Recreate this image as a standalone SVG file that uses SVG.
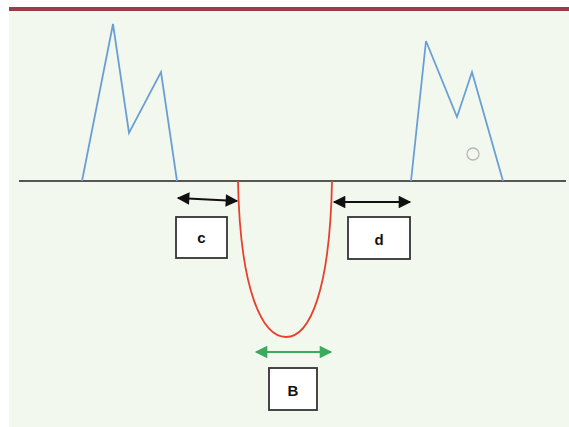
<svg xmlns="http://www.w3.org/2000/svg" width="569" height="427" viewBox="0 0 569 427">
<style>
.peak{fill:none;stroke:#6a9fd6;stroke-width:1.8;stroke-linejoin:miter}
.box{fill:#ffffff;stroke:#333333;stroke-width:1.8}
.lbl{font-family:"Liberation Sans",Arial,sans-serif;font-weight:bold;font-size:15px;fill:#111;text-anchor:middle}
.blk{stroke:#111;stroke-width:1.8;fill:none}
.grn{stroke:#3aaa5c;stroke-width:1.8;fill:none}
</style>
<defs>
<marker id="ah" viewBox="0 0 10 10" refX="9" refY="5" markerWidth="7.5" markerHeight="7" orient="auto-start-reverse" markerUnits="strokeWidth">
<path d="M0,0 L10,5 L0,10 z" fill="#111"/>
</marker>
<marker id="ag" viewBox="0 0 10 10" refX="9" refY="5" markerWidth="7.5" markerHeight="7" orient="auto-start-reverse" markerUnits="strokeWidth">
<path d="M0,0 L10,5 L0,10 z" fill="#3aaa5c"/>
</marker>
</defs>
<rect x="0" y="0" width="569" height="427" fill="#ffffff"/>
<rect x="9" y="7" width="560" height="420" fill="#f3f8ee"/>
<rect x="9" y="7" width="560" height="4" fill="#9c3b4b"/>
<g id="baseline"><line x1="19" y1="181" x2="566" y2="181" stroke="#222" stroke-width="1.6"/></g>
<g id="left-peak"><polyline class="peak" points="82,181 113,24 129,133 161,72 177,181"/></g>
<g id="right-peak"><polyline class="peak" points="411,181 426,41 457,117 472,72 503,181"/>
<circle cx="473" cy="154" r="6" fill="none" stroke="#b5b5b5" stroke-width="1.3"/></g>
<g id="pit"><path d="M238,181 C240,290 262,337 286,337 C310,337 330,290 332,181" fill="none" stroke="#e8402e" stroke-width="1.8"/></g>
<g id="connectors">
<line class="blk" x1="178" y1="198" x2="237" y2="201" marker-start="url(#ah)" marker-end="url(#ah)"/>
<line class="blk" x1="334" y1="202" x2="410" y2="202" marker-start="url(#ah)" marker-end="url(#ah)"/>
<line class="grn" x1="256" y1="352" x2="331" y2="352" marker-start="url(#ag)" marker-end="url(#ag)"/>
</g>
<g id="node-c"><rect class="box" x="176" y="217" width="51" height="41"/><text class="lbl" x="201.5" y="243">c</text></g>
<g id="node-d"><rect class="box" x="348" y="217" width="62" height="42"/><text class="lbl" x="379" y="245">d</text></g>
<g id="node-B"><rect class="box" x="269" y="368" width="48" height="42"/><text class="lbl" x="293" y="396">B</text></g>
</svg>
